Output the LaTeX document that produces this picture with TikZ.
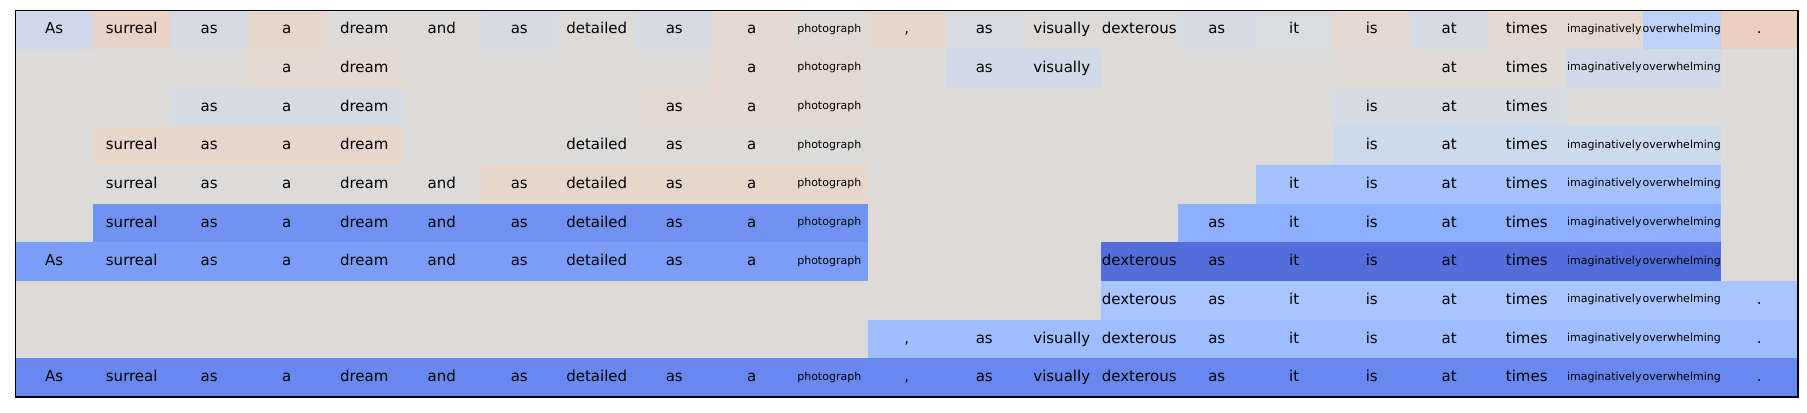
\documentclass[tikz,border=0pt]{standalone}
\usepackage{fontspec}
\setmainfont{DejaVu Sans}

%heat colours
\definecolor{bggray}{HTML}{DCDBDA}
\definecolor{pale1}{HTML}{CFD8E8}
\definecolor{pale2}{HTML}{D5DBE4}
\definecolor{pale3}{HTML}{D0D9E8}
\definecolor{pale4}{HTML}{CDD9EC}
\definecolor{pale5}{HTML}{D8DCE2}
\definecolor{warm1}{HTML}{EAD3C6}
\definecolor{warm2}{HTML}{E7D6CC}
\definecolor{warm3}{HTML}{E4D8D0}
\definecolor{warm4}{HTML}{E0DAD7}
\definecolor{warm5}{HTML}{EBD0C2}
\definecolor{gray1}{HTML}{DADCE0}
\definecolor{blue1}{HTML}{BBD1F8}
\definecolor{blue2}{HTML}{A3C2FE}
\definecolor{blue3}{HTML}{8CAFFE}
\definecolor{blue4}{HTML}{7093F3}
\definecolor{blue5}{HTML}{7A9DF8}
\definecolor{blue6}{HTML}{536EDC}
\definecolor{blue7}{HTML}{A7C5FE}
\definecolor{blue8}{HTML}{9EBEFF}
\definecolor{blue9}{HTML}{6788EE}

\tikzset{
  tok/.style={font=\fontsize{11.25}{13}\selectfont, inner sep=0pt, anchor=base, yshift=-3.2pt},
  frame/.style={draw=black, line width=0.9pt}
}
\newcommand{\smalltok}[1]{\raisebox{1.3pt}{\fontsize{8.25}{10}\selectfont #1}}
\newcommand{\tokword}[1]{\ifcase#1\relax As\or surreal\or as\or a\or dream\or and\or as\or detailed\or as\or a\or \smalltok{photograph}\or ,\or as\or visually\or dexterous\or as\or it\or is\or at\or times\or \smalltok{imaginatively}\or \smalltok{overwhelming}\or .\fi}

\begin{document}
\begin{tikzpicture}[x=58.125pt, y=-29pt]
\useasboundingbox (-11.625pt,7.725pt) rectangle (1343.625pt,-301.275pt);

%draw background
\fill[bggray] (0,0) rectangle (23,10);

%draw first row, one colour per token
\foreach \c/\col in {0/pale1, 1/warm1, 2/pale2, 3/warm2, 4/bggray, 5/bggray, 6/pale2, 7/bggray,
    8/pale2, 9/warm3, 10/warm4, 11/warm2, 12/pale5, 13/bggray, 14/bggray, 15/pale2, 16/gray1,
    17/warm3, 18/pale2, 19/warm3, 20/warm3, 21/blue1, 22/warm5}
  \fill[\col] (\c,0) rectangle (\c+1,1);

%draw spans of the other rows
\foreach \r/\a/\b/\col in {1/3/4/warm3, 1/9/10/warm3, 1/12/13/pale3, 1/17/19/warm4, 1/20/21/pale3,
    2/2/4/pale2, 2/8/10/warm3, 2/17/19/pale2,
    3/1/4/warm2, 3/17/21/pale4,
    4/6/10/warm2, 4/16/21/blue2,
    5/1/10/blue4, 5/15/21/blue3,
    6/0/10/blue5, 6/14/21/blue6,
    7/14/22/blue7,
    8/11/22/blue8,
    9/0/22/blue9}
  \fill[\col] (\a,\r) rectangle (\b+1,\r+1);

%draw tokens
\foreach \r/\cols in {0/{0,...,22}, 1/{3,4,9,10,12,13,18,19,20,21}, 2/{2,3,4,8,9,10,17,18,19},
    3/{1,2,3,4,7,8,9,10,17,18,19,20,21}, 4/{1,...,10,16,17,...,21}, 5/{1,...,10,15,16,...,21},
    6/{0,...,10,14,15,...,21}, 7/{14,...,22}, 8/{11,...,22}, 9/{0,...,22}}
  \foreach \c in \cols
    \node[tok] (t\r-\c) at (\c+0.5,\r+0.5) {\tokword{\c}};

%draw frame
\draw[frame] (0,0) rectangle (23,10);
\end{tikzpicture}
\end{document}
